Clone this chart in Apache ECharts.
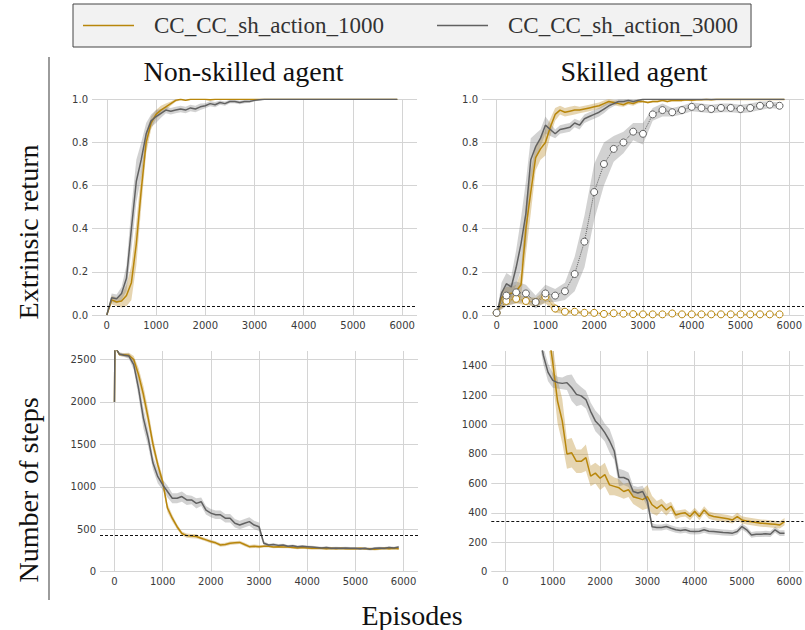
<!DOCTYPE html>
<html>
<head>
<meta charset="utf-8">
<script src="https://cdn.jsdelivr.net/npm/echarts@6/dist/echarts.min.js"></script>
<style>
  html, body { margin: 0; padding: 0; background: #ffffff; }
  #chart { width: 805px; height: 630px; }
</style>
</head>
<body>
<div id="chart"></div>
<script>
// ---- Data -------------------------------------------------------------
const SERIES_NAMES = ['CC_CC_sh_action_1000', 'CC_CC_sh_action_3000'];
const X_TICKS = [0, 1000, 2000, 3000, 4000, 5000, 6000];
const RETURN_TICKS = [0, 0.2, 0.4, 0.6, 0.8, 1.0];
const STEPS_TICKS_NS = [0, 500, 1000, 1500, 2000, 2500];
const STEPS_TICKS_SK = [0, 200, 400, 600, 800, 1000, 1200, 1400];

// episode axis for the return curves (every 100 episodes)
const EPISODES = [0,100,200,300,400,500,600,700,800,900,1000,1100,1200,1300,1400,1500,1600,1700,1800,1900,
  2000,2100,2200,2300,2400,2500,2600,2700,2800,2900,3000,3100,3200,3300,3400,3500,3600,3700,3800,3900,
  4000,4100,4200,4300,4400,4500,4600,4700,4800,4900,5000,5100,5200,5300,5400,5500,5600,5700,5800,5900];
// episode axis for the step-count curves (first sample right after reset)
const STEP_EPISODES = [0,10,100,200,300,400,500,600,700,800,900,1000,1100,1200,1300,1400,1500,1600,1700,1800,1900,
  2000,2100,2200,2300,2400,2500,2600,2700,2800,2900,3000,3100,3200,3300,3400,3500,3600,3700,3800,3900,
  4000,4100,4200,4300,4400,4500,4600,4700,4800,4900,5000,5100,5200,5300,5400,5500,5600,5700,5800,5900];
// evaluation checkpoints (every 200 episodes)
const EVAL_EPISODES = [0,200,400,600,800,1000,1200,1400,1600,1800,2000,2200,2400,2600,2800,3000,
  3200,3400,3600,3800,4000,4200,4400,4600,4800,5000,5200,5400,5600,5800];

// Non-skilled agent, extrinsic return
const NS_RET_1000 = [0,0.07,0.06,0.065,0.09,0.15,0.33,0.58,0.80,0.89,0.93,0.95,0.965,0.98,0.995,1,0.995,1,1,1,
  1,0.998,1,1,1,1,1,1,1,1,1,1,1,1,1,1,1,1,1,1,1,1,1,1,1,1,1,1,1,1,1,1,1,1,1,1,1,1,1,1];
const NS_RET_1000_SD = [0,0.02,0.02,0.03,0.05,0.08,0.1,0.08,0.05,0.03,0.02,0.02,0.015,0.01,0.006,0.004,0.003,0.003,0.003,0.003,
  0.003,0.003,0.003,0.003,0.003,0.003,0.003,0.003,0.003,0.003,0.003,0.003,0.003,0.003,0.003,0.003,0.003,0.003,0.003,0.003,
  0.003,0.003,0.003,0.003,0.003,0.003,0.003,0.003,0.003,0.003,0.003,0.003,0.003,0.003,0.003,0.003,0.003,0.003,0.003,0.003];
const NS_RET_3000 = [0,0.08,0.075,0.10,0.17,0.40,0.62,0.72,0.84,0.90,0.92,0.935,0.95,0.945,0.95,0.955,0.95,0.96,0.955,0.965,
  0.97,0.98,0.975,0.985,0.98,0.99,0.99,0.985,0.99,0.99,0.995,0.998,1,1,1,1,1,1,1,1,1,1,1,1,1,1,1,1,1,1,1,1,1,1,1,1,1,1,1,1];
const NS_RET_3000_SD = [0,0.02,0.02,0.03,0.06,0.1,0.1,0.08,0.05,0.03,0.03,0.02,0.015,0.015,0.015,0.015,0.015,0.015,0.015,0.015,
  0.012,0.012,0.012,0.01,0.01,0.008,0.008,0.008,0.008,0.006,0.005,0.003,0.002,0.002,0.002,0.002,0.002,0.002,0.002,0.002,
  0.002,0.002,0.002,0.002,0.002,0.002,0.002,0.002,0.002,0.002,0.002,0.002,0.002,0.002,0.002,0.002,0.002,0.002,0.002,0.002];

// Skilled agent, extrinsic return
const SK_RET_1000 = [0,0.08,0.10,0.10,0.11,0.14,0.40,0.57,0.73,0.77,0.80,0.87,0.93,0.95,0.94,0.945,0.95,0.95,0.955,0.96,
  0.965,0.97,0.98,0.99,0.985,0.98,0.975,0.985,0.98,0.99,0.99,0.985,0.99,0.99,0.995,0.99,0.995,0.995,0.995,0.998,
  0.995,0.998,0.998,1,0.998,1,1,1,1,1,1,1,1,1,1,1,1,1,1,1];
const SK_RET_1000_SD = [0,0.03,0.03,0.03,0.03,0.06,0.12,0.1,0.06,0.05,0.06,0.04,0.03,0.02,0.02,0.02,0.02,0.015,0.015,0.015,
  0.015,0.015,0.015,0.012,0.012,0.012,0.01,0.01,0.01,0.01,0.005,0.005,0.005,0.005,0.005,0.005,0.005,0.005,0.005,0.005,
  0.005,0.005,0.005,0.005,0.005,0.005,0.005,0.005,0.005,0.005,0.005,0.005,0.005,0.005,0.005,0.005,0.005,0.005,0.005,0.005];
const SK_RET_3000 = [0,0.10,0.145,0.13,0.22,0.33,0.47,0.72,0.78,0.82,0.88,0.86,0.84,0.86,0.865,0.87,0.89,0.88,0.91,0.92,
  0.93,0.94,0.955,0.97,0.98,0.99,0.99,0.995,0.99,0.995,1,1,1,1,1,1,1,1,1,1,1,1,1,1,1,1,1,1,1,1,1,1,1,1,1,1,1,1,1,1];
const SK_RET_3000_SD = [0,0.05,0.05,0.05,0.08,0.12,0.15,0.1,0.06,0.04,0.04,0.03,0.02,0.02,0.02,0.02,0.02,0.02,0.02,0.02,
  0.02,0.02,0.02,0.015,0.012,0.01,0.01,0.008,0.008,0.006,0.003,0.003,0.003,0.003,0.003,0.003,0.003,0.003,0.003,0.003,
  0.003,0.003,0.003,0.003,0.003,0.003,0.003,0.003,0.003,0.003,0.003,0.003,0.003,0.003,0.003,0.003,0.003,0.003,0.003,0.003];

// Skilled agent, extrinsic return measured at evaluation checkpoints
const SK_EVAL_1000 = [0.01,0.065,0.075,0.065,0.06,0.085,0.03,0.015,0.015,0.01,0.01,0.005,0.008,0.006,0.004,
  0.003,0.003,0.003,0.007,0.003,0.003,0.003,0.003,0.003,0.003,0.003,0.003,0.003,0.003,0.003];
const SK_EVAL_1000_SD = [0,0.02,0.02,0.02,0.02,0.03,0.02,0.01,0.008,0.006,0.005,0.004,0.004,0.003,0.003,
  0.002,0.002,0.002,0.002,0.002,0.002,0.002,0.002,0.002,0.002,0.002,0.002,0.002,0.002,0.002];
const SK_EVAL_3000 = [0.01,0.09,0.105,0.10,0.06,0.10,0.09,0.11,0.19,0.34,0.57,0.70,0.77,0.80,0.85,
  0.84,0.93,0.95,0.94,0.95,0.965,0.96,0.955,0.96,0.96,0.955,0.96,0.97,0.975,0.97];
const SK_EVAL_3000_SD = [0,0.05,0.05,0.04,0.03,0.04,0.03,0.04,0.08,0.12,0.13,0.10,0.06,0.05,0.04,
  0.05,0.03,0.03,0.02,0.02,0.02,0.02,0.02,0.02,0.02,0.02,0.02,0.02,0.015,0.015];

// Non-skilled agent, number of steps (61 samples each, matching STEP_EPISODES)
const NS_STEPS_1000 = [2000,2650,2560,2555,2550,2500,2320,2090,1810,1500,1260,1060,750,630,530,450,425,420,415,395,375,
  355,340,315,320,335,340,345,320,295,300,295,300,300,290,295,290,290,285,280,285,280,
  275,275,275,270,275,270,275,270,270,270,275,270,270,265,270,275,270,275,270];
const NS_STEPS_1000_SD = [0,0,20,20,30,40,80,100,100,80,60,60,50,40,30,25,25,25,25,20,20,
  20,20,20,20,20,20,20,20,20,20,20,15,15,15,15,15,15,15,15,15,
  15,15,15,15,15,15,15,15,15,15,15,15,15,15,15,15,15,15,15,15];
const NS_STEPS_3000 = [2000,2650,2565,2550,2540,2440,2160,1810,1575,1280,1120,1025,945,865,865,885,845,845,805,825,725,
  690,670,670,630,630,570,550,570,590,550,530,335,315,320,310,315,300,305,295,300,295,
  290,285,280,285,275,280,275,280,275,275,270,275,265,275,280,275,285,280,290];
const NS_STEPS_3000_SD = [0,0,20,20,30,60,100,120,100,80,80,60,70,60,60,60,60,50,60,50,50,
  50,50,50,50,50,50,50,50,50,50,50,25,15,15,15,15,15,15,15,15,
  15,15,15,15,15,15,15,15,15,15,15,15,15,15,15,15,15,15,15,15];

// Skilled agent, number of steps
const SK_STEPS_1000 = [2000,2650,2560,2555,2550,2500,2400,2250,2050,1850,1650,1420,1160,1025,800,808,750,750,775,650,670,
  635,660,590,580,570,545,557,510,500,490,510,455,430,455,420,445,385,395,400,375,410,
  375,420,385,375,370,365,360,352,375,352,345,340,335,330,328,325,322,318,340];
const SK_STEPS_1000_SD = [0,0,20,20,30,40,60,80,100,100,100,120,150,150,100,100,80,80,90,70,70,
  80,80,70,60,60,50,50,50,60,70,80,60,50,40,40,30,30,25,25,25,25,
  25,25,25,25,25,25,25,25,25,25,25,25,25,25,25,25,25,25,25];
const SK_STEPS_3000 = [2000,2650,2560,2550,2500,2350,2150,1900,1650,1470,1355,1300,1285,1280,1285,1250,1205,1195,1170,1090,1025,
  990,945,890,820,640,640,625,545,535,545,480,305,300,300,307,295,285,280,285,275,273,
  275,285,275,273,270,266,265,262,273,307,285,250,255,255,258,255,285,262,262];
const SK_STEPS_3000_SD = [0,0,20,20,30,60,80,80,60,60,60,50,40,40,50,90,80,60,60,60,70,
  70,60,80,60,60,50,50,40,40,40,40,25,20,20,20,20,20,20,20,20,20,
  20,20,20,20,20,20,20,20,20,20,20,20,20,20,20,20,20,20,20];

// success thresholds drawn as dashed reference lines
const NS_RET_REF = 0.037;
const SK_RET_REF = 0.045;
const NS_STEPS_REF = 430;
const SK_STEPS_REF = 341;

// ---- Styling ----------------------------------------------------------
const GOLD = '#b8860b';
const GRAY = '#616161';
const GOLD_BAND = 'rgba(190,145,50,0.38)';
const GRAY_BAND = 'rgba(130,130,130,0.36)';
const SERIF = "'Liberation Serif', 'DejaVu Serif', serif";
const SANS = "'DejaVu Sans', sans-serif";

const panels = [
  { grid: { left: 92,  top: 99.3, width: 325,   height: 215.7 }, yMax: 1,    yTicks: RETURN_TICKS, dec: 1 },
  { grid: { left: 482, top: 99.3, width: 326.5, height: 215.7 }, yMax: 1,    yTicks: RETURN_TICKS, dec: 1 },
  { grid: { left: 100, top: 351,  width: 318,   height: 220.7 }, yMax: 2600, yTicks: STEPS_TICKS_NS, dec: 0 },
  { grid: { left: 491.3, top: 351, width: 317.5, height: 220.7 }, yMax: 1500, yTicks: STEPS_TICKS_SK, dec: 0 }
];

const pairs = (xs, ys) => xs.map((x, i) => [x, ys[i]]);

function bandSeries(idx, xs, mean, sd, fill) {
  return {
    type: 'custom',
    xAxisIndex: idx, yAxisIndex: idx,
    clip: true, silent: true, z: 1,
    data: xs.map((x, i) => [x, mean[i] - sd[i], mean[i] + sd[i]]),
    encode: { x: 0, y: [1, 2] },
    renderItem: function (params, api) {
      if (params.dataIndex !== 0) return null;
      const upper = xs.map((x, i) => api.coord([x, mean[i] + sd[i]]));
      const lower = xs.map((x, i) => api.coord([x, mean[i] - sd[i]])).reverse();
      return { type: 'polygon', shape: { points: upper.concat(lower) }, style: { fill: fill } };
    }
  };
}

function lineSeries(idx, name, xs, ys, color, ref) {
  const s = {
    type: 'line', name: name, xAxisIndex: idx, yAxisIndex: idx,
    data: pairs(xs, ys), showSymbol: false, symbol: 'none',
    color: color, lineStyle: { color: color, width: 1.5 }, z: 3, silent: true
  };
  if (ref !== undefined) {
    s.markLine = {
      symbol: 'none', silent: true, label: { show: false },
      lineStyle: { type: [3, 2], color: '#111', width: 1 },
      data: [{ yAxis: ref }]
    };
  }
  return s;
}

function evalSeries(idx, xs, ys, color) {
  return {
    type: 'line', xAxisIndex: idx, yAxisIndex: idx,
    data: pairs(xs, ys), symbol: 'circle', symbolSize: 7, showSymbol: true,
    itemStyle: { color: '#ffffff', borderColor: color, borderWidth: 1 },
    lineStyle: { color: color, width: 1, type: 'dotted' }, z: 4, silent: true
  };
}

const grids = panels.map(p => p.grid);
const xAxes = panels.map((p, i) => ({
  type: 'value', gridIndex: i, min: -300, max: 6300,
  axisLine: { show: false },
  axisTick: { show: false, customValues: X_TICKS },
  axisLabel: { customValues: X_TICKS, fontSize: 10, color: '#3a3a3a', fontFamily: SANS, margin: 5,
    formatter: v => String(v) },
  splitLine: { show: true, lineStyle: { color: '#d4d4d4', width: 1 } }
}));
const yAxes = panels.map((p, i) => ({
  type: 'value', gridIndex: i, min: 0, max: p.yMax,
  axisLine: { show: false },
  axisTick: { show: false, customValues: p.yTicks },
  axisLabel: {
    customValues: p.yTicks, fontSize: 10, color: '#3a3a3a', fontFamily: SANS, margin: 4,
    formatter: v => p.dec ? v.toFixed(p.dec) : String(v)
  },
  splitLine: { show: true, lineStyle: { color: '#d4d4d4', width: 1 } }
}));

const series = [
  // named curves first so the legend takes their colours
  lineSeries(0, SERIES_NAMES[0], EPISODES, NS_RET_1000, GOLD, NS_RET_REF),
  lineSeries(0, SERIES_NAMES[1], EPISODES, NS_RET_3000, GRAY),
  lineSeries(1, SERIES_NAMES[0], EPISODES, SK_RET_1000, GOLD, SK_RET_REF),
  lineSeries(1, SERIES_NAMES[1], EPISODES, SK_RET_3000, GRAY),
  lineSeries(2, SERIES_NAMES[0], STEP_EPISODES, NS_STEPS_1000, GOLD, NS_STEPS_REF),
  lineSeries(2, SERIES_NAMES[1], STEP_EPISODES, NS_STEPS_3000, GRAY),
  lineSeries(3, SERIES_NAMES[0], STEP_EPISODES, SK_STEPS_1000, GOLD, SK_STEPS_REF),
  lineSeries(3, SERIES_NAMES[1], STEP_EPISODES, SK_STEPS_3000, GRAY),
  // evaluation checkpoints of the skilled agent
  evalSeries(1, EVAL_EPISODES, SK_EVAL_1000, GOLD),
  evalSeries(1, EVAL_EPISODES, SK_EVAL_3000, GRAY),
  // spread bands
  bandSeries(0, EPISODES, NS_RET_1000, NS_RET_1000_SD, GOLD_BAND),
  bandSeries(0, EPISODES, NS_RET_3000, NS_RET_3000_SD, GRAY_BAND),
  bandSeries(1, EPISODES, SK_RET_1000, SK_RET_1000_SD, GOLD_BAND),
  bandSeries(1, EPISODES, SK_RET_3000, SK_RET_3000_SD, GRAY_BAND),
  bandSeries(1, EVAL_EPISODES, SK_EVAL_1000, SK_EVAL_1000_SD, GOLD_BAND),
  bandSeries(1, EVAL_EPISODES, SK_EVAL_3000, SK_EVAL_3000_SD, GRAY_BAND),
  bandSeries(2, STEP_EPISODES, NS_STEPS_1000, NS_STEPS_1000_SD, GOLD_BAND),
  bandSeries(2, STEP_EPISODES, NS_STEPS_3000, NS_STEPS_3000_SD, GRAY_BAND),
  bandSeries(3, STEP_EPISODES, SK_STEPS_1000, SK_STEPS_1000_SD, GOLD_BAND),
  bandSeries(3, STEP_EPISODES, SK_STEPS_3000, SK_STEPS_3000_SD, GRAY_BAND)
];

const bigText = (text, x, y, rotation) => ({
  type: 'text', x: x, y: y, rotation: rotation || 0, silent: true,
  style: { text: text, font: '28px ' + SERIF, fill: '#111', align: 'center', verticalAlign: 'middle' }
});

const option = {
  animation: false,
  backgroundColor: '#ffffff',
  grid: grids,
  xAxis: xAxes,
  yAxis: yAxes,
  legend: {
    data: SERIES_NAMES.map(n => ({ name: n })),
    left: 73, top: 4,
    icon: 'rect', itemWidth: 51, itemHeight: 1.5, itemGap: 53,
    padding: [10, 13, 10, 10],
    backgroundColor: '#f2f2f2', borderColor: '#444', borderWidth: 1, borderRadius: 0,
    selectedMode: false,
    textStyle: { fontFamily: SERIF, fontSize: 23, lineHeight: 23, color: '#333', padding: [0, 0, 0, 15] }
  },
  graphic: [
    bigText('Non-skilled agent', 243.5, 71),
    bigText('Skilled agent', 634, 71),
    bigText('Episodes', 412, 615),
    bigText('Extrinsic return', 28, 232, Math.PI / 2),
    bigText('Number of steps', 28, 490, Math.PI / 2),
    { type: 'line', silent: true, shape: { x1: 49, y1: 57, x2: 49, y2: 600 },
      style: { stroke: '#666', lineWidth: 1.3 } }
  ],
  series: series
};

const chart = echarts.init(document.getElementById('chart'), null, { renderer: 'svg' });
chart.setOption(option);
</script>
</body>
</html>
